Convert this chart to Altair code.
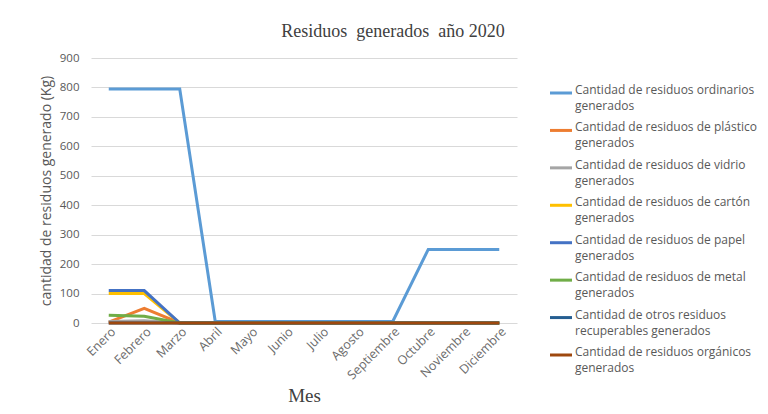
import altair as alt
import pandas as pd

months = ["Enero", "Febrero", "Marzo", "Abril", "Mayo", "Junio", "Julio",
          "Agosto", "Septiembre", "Octubre", "Noviembre", "Diciembre"]

series_names = [
    "Cantidad de residuos ordinarios generados",
    "Cantidad de residuos de plástico generados",
    "Cantidad de residuos de vidrio generados",
    "Cantidad de residuos de cartón generados",
    "Cantidad de residuos de papel generados",
    "Cantidad de residuos de metal generados",
    "Cantidad de otros residuos recuperables generados",
    "Cantidad de residuos orgánicos generados",
]
legend_labels = [
    "Cantidad de residuos ordinarios|generados",
    "Cantidad de residuos de plástico|generados",
    "Cantidad de residuos de vidrio|generados",
    "Cantidad de residuos de cartón|generados",
    "Cantidad de residuos de papel|generados",
    "Cantidad de residuos de metal|generados",
    "Cantidad de otros residuos|recuperables generados",
    "Cantidad de residuos orgánicos|generados",
]
colors = ["#5B9BD5", "#ED7D31", "#A5A5A5", "#FFC000", "#4472C4", "#70AD47", "#255E91", "#9E480E"]

ordinarios = [795, 795, 795, 5, 5, 5, 5, 5, 5, 250, 250, 250]
plastico = [3, 50, 0, 0, 0, 0, 0, 0, 0, 0, 0, 0]
vidrio = [5, 8, 0, 0, 0, 0, 0, 0, 0, 0, 0, 0]
carton = [100, 100, 0, 0, 0, 0, 0, 0, 0, 0, 0, 0]
papel = [110, 110, 0, 0, 0, 0, 0, 0, 0, 0, 0, 0]
metal = [26, 23, 0, 0, 0, 0, 0, 0, 0, 0, 0, 0]
otros = [0, 0, 0, 0, 0, 0, 0, 0, 0, 0, 0, 0]
organicos = [0, 0, 0, 0, 0, 0, 0, 0, 0, 0, 0, 0]

all_values = [ordinarios, plastico, vidrio, carton, papel, metal, otros, organicos]

rows = []
for i, (name, vals) in enumerate(zip(series_names, all_values)):
    for m, v in zip(months, vals):
        rows.append({"mes": m, "valor": v, "serie": name, "orden": i})
df = pd.DataFrame(rows)

leg_df = pd.DataFrame({"serie": series_names, "etiqueta": legend_labels})

color_scale = alt.Scale(domain=series_names, range=colors)

lines = alt.Chart(df).mark_line(strokeWidth=3).encode(
    x=alt.X("mes:N", sort=months, title="Mes",
            axis=alt.Axis(labelAngle=-45, labelFontSize=12.5, labelColor="#6b6b6b",
                          labelFont="Open Sans", ticks=False, domain=False, grid=False,
                          titleFont="Liberation Serif", titleFontSize=19, titleFontWeight="normal",
                          titleColor="#404040", titleY=72, titleBaseline="middle")),
    y=alt.Y("valor:Q", scale=alt.Scale(domain=[0, 900]), title="cantidad de residuos generado (Kg)",
            axis=alt.Axis(values=list(range(0, 901, 100)), labelFontSize=11.5, labelColor="#595959",
                          labelFont="Open Sans", ticks=False, domain=False,
                          gridColor="#D9D9D9", gridWidth=1, labelPadding=12,
                          titleFont="Open Sans", titleFontSize=14, titleFontWeight="normal",
                          titleColor="#595959", titlePadding=6)),
    color=alt.Color("serie:N", scale=color_scale, legend=None),
    order=alt.Order("orden:Q"),
    detail="serie:N",
)

legend_y = alt.Y("serie:N",
                 scale=alt.Scale(type="point", domain=series_names, range=[35, 297], padding=0),
                 axis=None)

leg_rules = alt.Chart(leg_df).mark_rule(strokeWidth=3).encode(
    x=alt.value(459), x2=alt.value(481), y=legend_y,
    color=alt.Color("serie:N", scale=color_scale, legend=None),
)
leg_text = alt.Chart(leg_df).mark_text(
    align="left", baseline="top", dy=-8, lineBreak="|", lineHeight=16,
    font="Open Sans", fontSize=12, color="#595959",
).encode(
    x=alt.value(484), y=legend_y, text="etiqueta:N",
)

legend = alt.layer(leg_rules, leg_text)

chart = alt.layer(lines, legend).resolve_scale(y="independent").properties(
    width=426, height=265,
    autosize=alt.AutoSizeParams(type="none"),
    padding={"left": 91, "top": 58, "right": 251, "bottom": 91},
    title=alt.Title("Residuos\u00a0\u00a0generados\u00a0\u00a0año 2020", font="Liberation Serif",
                    fontSize=18, fontWeight="normal", color="#404040", dx=89, offset=11,
                    anchor="middle"),
).configure(background="white").configure_view(stroke="transparent", strokeWidth=0)

chart.save("out.html", embed_options={"renderer": "svg", "actions": False})
